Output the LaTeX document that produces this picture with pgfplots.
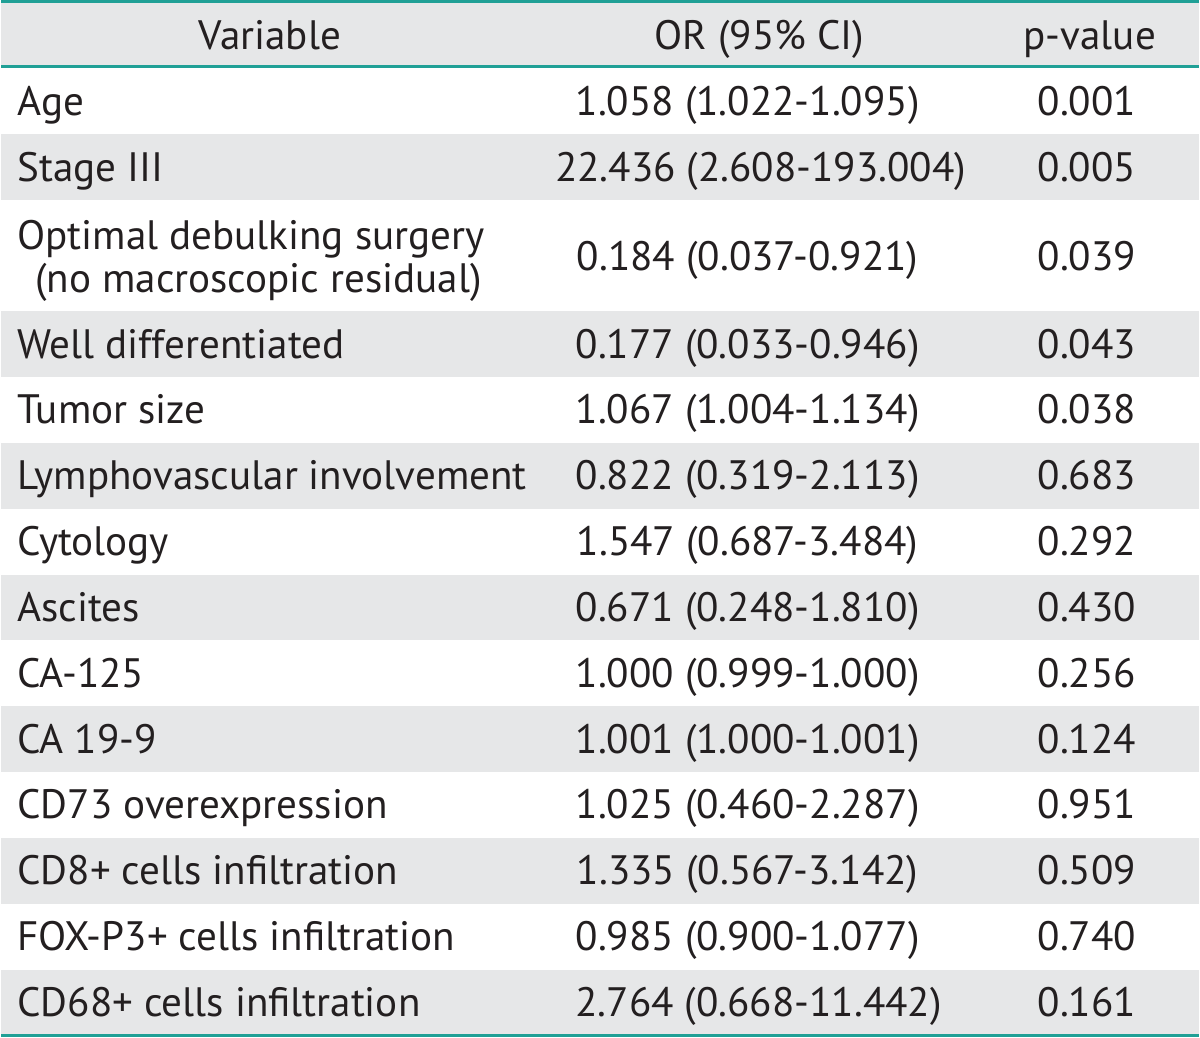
\documentclass[border=0pt]{standalone}
\usepackage{fontspec}
\setmainfont{PT Sans}
\usepackage{pgfplots}
\pgfplotsset{compat=1.18}
\definecolor{tealline}{RGB}{32,160,150}
\definecolor{stripe}{RGB}{230,231,232}
\definecolor{txt}{RGB}{35,31,32}
\begin{document}
\begin{tikzpicture}[cell/.style={font=\fontsize{20.6}{24}\selectfont, text=txt, inner sep=0pt, outer sep=0pt}]
\begin{axis}[scale only axis, width=600pt, height=520pt,
  xmin=0, xmax=1200, ymin=0, ymax=1040, y dir=reverse,
  hide axis, clip=false]
% background
\addplot[fill=white, draw=none] coordinates {(0,0) (1200,0) (1200,1040) (0,1040)} -- cycle;
% grey stripes (header + alternate rows)
\addplot[fill=stripe, draw=none] coordinates {(0,3) (1200,3) (1200,66) (0,66)} -- cycle;
\addplot[fill=stripe, draw=none] coordinates {(0,134) (1200,134) (1200,200) (0,200)} -- cycle;
\addplot[fill=stripe, draw=none] coordinates {(0,312) (1200,312) (1200,378) (0,378)} -- cycle;
\addplot[fill=stripe, draw=none] coordinates {(0,444) (1200,444) (1200,510) (0,510)} -- cycle;
\addplot[fill=stripe, draw=none] coordinates {(0,576) (1200,576) (1200,642) (0,642)} -- cycle;
\addplot[fill=stripe, draw=none] coordinates {(0,708) (1200,708) (1200,774) (0,774)} -- cycle;
\addplot[fill=stripe, draw=none] coordinates {(0,840) (1200,840) (1200,906) (0,906)} -- cycle;
\addplot[fill=stripe, draw=none] coordinates {(0,972) (1200,972) (1200,1037) (0,1037)} -- cycle;
% rules
\addplot[tealline, line width=1.5pt] coordinates {(0,1.5) (1200,1.5)};
\addplot[tealline, line width=1.5pt] coordinates {(0,67) (1200,67)};
\addplot[tealline, line width=1.5pt] coordinates {(0,1038.5) (1200,1038.5)};
% header
\node[cell, anchor=base] at (axis cs:269,50) {Variable};
\node[cell, anchor=base] at (axis cs:760,50) {OR (95\% CI)};
\node[cell, anchor=base] at (axis cs:1091,50) {p-value};
% variable column
\node[cell, anchor=base west] at (axis cs:16,116) {Age};
\node[cell, anchor=base west] at (axis cs:16,182) {Stage III};
\node[cell, anchor=base west] at (axis cs:16,250) {Optimal debulking surgery};
\node[cell, anchor=base west] at (axis cs:34,293) {(no macroscopic residual)};
\node[cell, anchor=base west] at (axis cs:16,359) {Well differentiated};
\node[cell, anchor=base west] at (axis cs:16,425) {Tumor size};
\node[cell, anchor=base west] at (axis cs:16,491) {Lymphovascular involvement};
\node[cell, anchor=base west] at (axis cs:16,557) {Cytology};
\node[cell, anchor=base west] at (axis cs:16,623) {Ascites};
\node[cell, anchor=base west] at (axis cs:16,689) {CA-125};
\node[cell, anchor=base west] at (axis cs:16,755) {CA 19-9};
\node[cell, anchor=base west] at (axis cs:16,821) {CD73 overexpression};
\node[cell, anchor=base west] at (axis cs:16,887) {CD8+ cells infiltration};
\node[cell, anchor=base west] at (axis cs:16,953) {FOX-P3+ cells infiltration};
\node[cell, anchor=base west] at (axis cs:16,1019) {CD68+ cells infiltration};
% OR column
\node[cell, anchor=base] at (axis cs:748,116) {1.058 (1.022-1.095)};
\node[cell, anchor=base] at (axis cs:761,182) {22.436 (2.608-193.004)};
\node[cell, anchor=base] at (axis cs:748,271) {0.184 (0.037-0.921)};
\node[cell, anchor=base] at (axis cs:748,359) {0.177 (0.033-0.946)};
\node[cell, anchor=base] at (axis cs:748,425) {1.067 (1.004-1.134)};
\node[cell, anchor=base] at (axis cs:748,491) {0.822 (0.319-2.113)};
\node[cell, anchor=base] at (axis cs:748,557) {1.547 (0.687-3.484)};
\node[cell, anchor=base] at (axis cs:748,623) {0.671 (0.248-1.810)};
\node[cell, anchor=base] at (axis cs:748,689) {1.000 (0.999-1.000)};
\node[cell, anchor=base] at (axis cs:748,755) {1.001 (1.000-1.001)};
\node[cell, anchor=base] at (axis cs:748,821) {1.025 (0.460-2.287)};
\node[cell, anchor=base] at (axis cs:748,887) {1.335 (0.567-3.142)};
\node[cell, anchor=base] at (axis cs:748,953) {0.985 (0.900-1.077)};
\node[cell, anchor=base] at (axis cs:759,1019) {2.764 (0.668-11.442)};
% p-value column
\node[cell, anchor=base] at (axis cs:1088,116) {0.001};
\node[cell, anchor=base] at (axis cs:1088,182) {0.005};
\node[cell, anchor=base] at (axis cs:1088,271) {0.039};
\node[cell, anchor=base] at (axis cs:1088,359) {0.043};
\node[cell, anchor=base] at (axis cs:1088,425) {0.038};
\node[cell, anchor=base] at (axis cs:1088,491) {0.683};
\node[cell, anchor=base] at (axis cs:1088,557) {0.292};
\node[cell, anchor=base] at (axis cs:1088,623) {0.430};
\node[cell, anchor=base] at (axis cs:1088,689) {0.256};
\node[cell, anchor=base] at (axis cs:1088,755) {0.124};
\node[cell, anchor=base] at (axis cs:1088,821) {0.951};
\node[cell, anchor=base] at (axis cs:1088,887) {0.509};
\node[cell, anchor=base] at (axis cs:1088,953) {0.740};
\node[cell, anchor=base] at (axis cs:1088,1019) {0.161};
\end{axis}
\end{tikzpicture}
\end{document}
